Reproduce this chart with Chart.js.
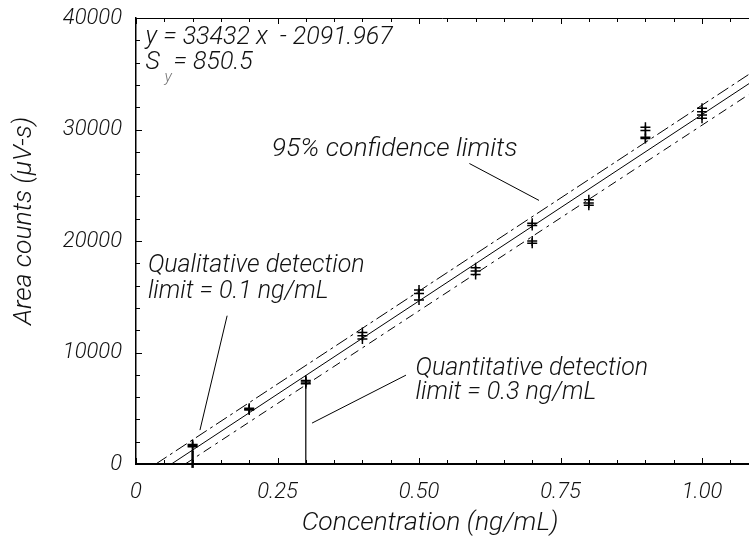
<!DOCTYPE html>
<html>
<head>
<meta charset="utf-8">
<script src="https://cdn.jsdelivr.net/npm/chart.js@4/dist/chart.umd.min.js"></script>
<style>
  html, body { margin: 0; padding: 0; background: #fff; }
  #wrap { width: 749px; height: 541px; position: relative; }
</style>
</head>
<body>
<div id="wrap"><canvas id="chart"></canvas></div>
<script>
// concentrations (ng/mL) and replicate area counts
var concentrations = [0.1, 0.2, 0.3, 0.4, 0.5, 0.6, 0.7, 0.8, 0.9, 1.0];
var replicates = [
    [1750, 1650, 1550],
    [5000, 4900, 4850],
    [7500, 7350, 7200],
    [11800, 11500, 11200],
    [15600, 15300, 14700],
    [17600, 17300, 17000],
    [21600, 21400, 20000, 19800],
    [23700, 23400, 23200],
    [30200, 29900, 29300, 29200],
    [31900, 31600, 31300, 31000]
];

// regression line y = 33432x - 2091.967 and the 95% limits (end points)
var fitLine = [{x: 0.0626, y: 0}, {x: 1.083, y: 34115}];
var upperLimit = [{x: 0.035, y: 0}, {x: 1.083, y: 34950}];
var lowerLimit = [{x: 0.087, y: 0}, {x: 1.083, y: 33150}];

// detection limit markers
var qualLimit = [{x: 0.1, y: -350}, {x: 0.1, y: 1200}];
var quantLimit = [{x: 0.3, y: 0}, {x: 0.3, y: 7950}];

var xTicks = [0, 0.25, 0.5, 0.75, 1.0];
var yTicks = [0, 10000, 20000, 30000, 40000];

var FONT = "Roboto, 'Liberation Sans', Arial, sans-serif";

var points = [];
concentrations.forEach(function (c, i) {
    replicates[i].forEach(function (v) {
        points.push({x: c, y: v});
    });
});

function lineSet(data, dash, width) {
    return {
        type: 'line',
        data: data,
        borderColor: '#000',
        borderWidth: width || 1,
        borderDash: dash || [],
        pointRadius: 0,
        fill: false
    };
}

// annotations, positioned in data units
var notes = [
    {text: 'y = 33432 x  - 2091.967', x: 0.017, y: 37700, size: 25},
    {text: '95% confidence limits', x: 0.240, y: 27600, size: 26.5},
    {text: 'Qualitative detection', x: 0.021, y: 17250, size: 25},
    {text: 'limit = 0.1 ng/mL', x: 0.021, y: 14900, size: 25},
    {text: 'Quantitative detection', x: 0.494, y: 8000, size: 25},
    {text: 'limit = 0.3 ng/mL', x: 0.494, y: 5800, size: 25}
];
var leaders = [
    [{x: 0.589, y: 26950}, {x: 0.712, y: 23640}],
    [{x: 0.161, y: 13300}, {x: 0.113, y: 3040}],
    [{x: 0.477, y: 7970}, {x: 0.311, y: 3670}]
];

var decorations = {
    id: 'decorations',
    afterDraw: function (chart) {
        var c = chart.ctx, a = chart.chartArea;
        var xs = chart.scales.x, ys = chart.scales.y;
        c.save();
        c.strokeStyle = '#000';
        c.fillStyle = '#000';

        // top frame line
        c.lineWidth = 1;
        c.beginPath();
        c.moveTo(a.left, a.top + 0.5);
        c.lineTo(a.right, a.top + 0.5);
        c.stroke();

        // inward tick marks
        var v, px, len;
        for (var k = 0; k * 0.05 <= xs.max; k++) {
            v = k * 0.05;
            px = Math.round(xs.getPixelForValue(v)) + 0.5;
            len = (k % 5 === 0) ? 6 : 4;
            c.beginPath();
            c.moveTo(px, a.bottom);
            c.lineTo(px, a.bottom - len);
            c.moveTo(px, a.top);
            c.lineTo(px, a.top + len);
            c.stroke();
        }
        for (k = 0; k * 2000 <= ys.max; k++) {
            v = k * 2000;
            px = Math.round(ys.getPixelForValue(v)) + 0.5;
            len = (k % 5 === 0) ? 6 : 4;
            c.beginPath();
            c.moveTo(a.left, px);
            c.lineTo(a.left + len, px);
            c.stroke();
        }

        // leader lines
        c.lineWidth = 1;
        leaders.forEach(function (l) {
            c.beginPath();
            c.moveTo(xs.getPixelForValue(l[0].x), ys.getPixelForValue(l[0].y));
            c.lineTo(xs.getPixelForValue(l[1].x), ys.getPixelForValue(l[1].y));
            c.stroke();
        });

        // annotation text
        c.fillStyle = '#111';
        c.textBaseline = 'alphabetic';
        c.textAlign = 'left';
        notes.forEach(function (n) {
            c.font = 'italic 300 ' + n.size + 'px ' + FONT;
            c.fillText(n.text, xs.getPixelForValue(n.x), ys.getPixelForValue(n.y));
        });

        // S_y = 850.5
        var sx = xs.getPixelForValue(0.017), sy = ys.getPixelForValue(35450);
        c.font = 'italic 300 25px ' + FONT;
        c.fillText('S', sx, sy);
        c.fillStyle = '#777';
        c.font = 'italic 300 16px ' + FONT;
        c.fillText('y', sx + 19, sy + 13);
        c.fillStyle = '#111';
        c.font = 'italic 300 25px ' + FONT;
        c.fillText('= 850.5', sx + 28, sy);

        // axis titles
        c.font = 'italic 300 26.5px ' + FONT;
        c.textAlign = 'center';
        c.fillText('Concentration (ng/mL)', 430, 530);
        c.translate(31, 221);
        c.rotate(-Math.PI / 2);
        c.fillText('Area counts (\u03bcV-s)', 0, 0);
        c.restore();
    }
};

new Chart(document.getElementById('chart'), {
    type: 'scatter',
    data: {
        datasets: [
            {
                data: points,
                pointStyle: 'cross',
                pointRadius: 5,
                pointBorderWidth: 1.5,
                borderColor: '#000',
                backgroundColor: '#000'
            },
            lineSet(fitLine),
            lineSet(upperLimit, [13, 4, 3, 4]),
            lineSet(lowerLimit, [9, 5, 3, 5]),
            Object.assign(lineSet(qualLimit, [], 2.5), {clip: false}),
            lineSet(quantLimit, [], 1.2)
        ]
    },
    options: {
        responsive: true,
        maintainAspectRatio: false,
        animation: false,
        events: [],
        layout: {autoPadding: false, padding: {top: 18, right: 0, left: 0, bottom: 0}},
        plugins: {legend: {display: false}, tooltip: {enabled: false}},
        scales: {
            x: {
                type: 'linear',
                min: 0,
                max: 1.083,
                afterBuildTicks: function (s) {
                    s.ticks = xTicks.map(function (v) { return {value: v}; });
                },
                afterFit: function (s) {
                    s.height = 77;
                    s.paddingLeft = 0;
                    s.paddingRight = 0;
                },
                grid: {display: false, drawTicks: false},
                border: {display: true, color: '#000', width: 2},
                ticks: {
                    padding: 15,
                    color: '#111',
                    font: {family: FONT, size: 22, style: 'italic', weight: 300},
                    maxRotation: 0,
                    callback: function (v) { return v === 0 ? '0' : v.toFixed(2); }
                }
            },
            y: {
                type: 'linear',
                min: 0,
                max: 40000,
                afterBuildTicks: function (s) {
                    s.ticks = yTicks.map(function (v) { return {value: v}; });
                },
                afterFit: function (s) {
                    s.width = 136;
                    s.paddingTop = 0;
                    s.paddingBottom = 0;
                },
                grid: {display: false, drawTicks: false},
                border: {display: true, color: '#000', width: 1.5},
                ticks: {
                    padding: 14,
                    color: '#111',
                    font: {family: FONT, size: 22, style: 'italic', weight: 300},
                    callback: function (v) { return String(v); }
                }
            }
        }
    },
    plugins: [decorations]
});
</script>
</body>
</html>
